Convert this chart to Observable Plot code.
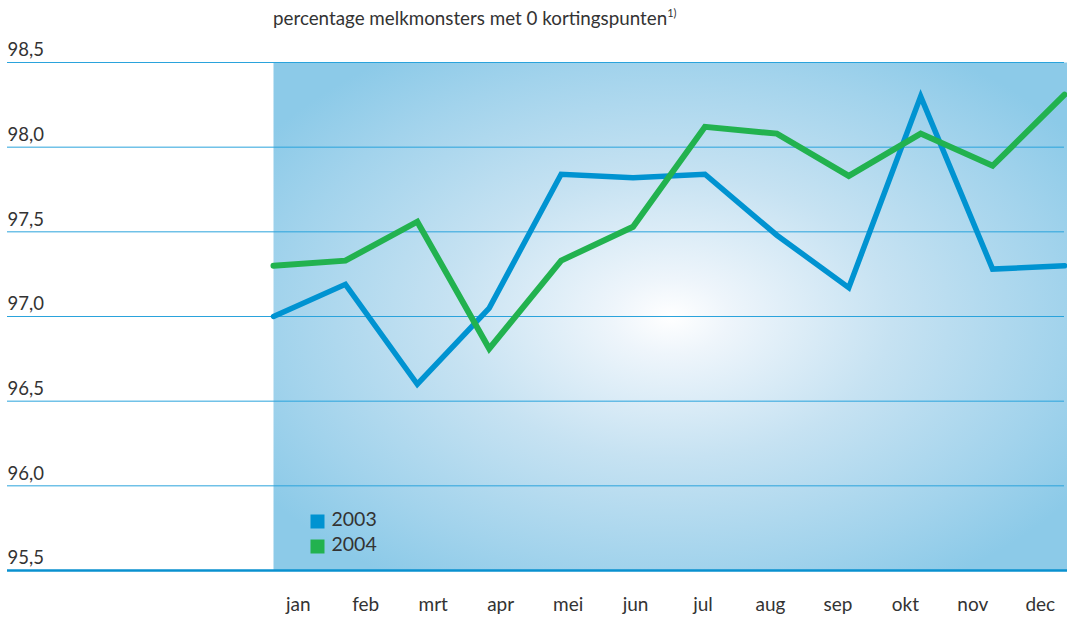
<!DOCTYPE html>
<html>
<head>
<meta charset="utf-8">
<script src="https://cdn.jsdelivr.net/npm/d3@7"></script>
<script src="https://cdn.jsdelivr.net/npm/@observablehq/plot@0.6"></script>
<style>
  body { margin: 0; background: #fff; font-family: Lato, "Open Sans", sans-serif; }
  #wrap { position: relative; width: 1067px; height: 619px; }
  #title { position: absolute; left: 273px; top: 6px; font-size: 18.8px; color: #333; white-space: nowrap; }
  #title sup { font-size: 11px; position: relative; top: -1px; }
  #chart { position: absolute; left: 0; top: 40px; }
</style>
</head>
<body>
<svg width="0" height="0" style="position:absolute">
  <defs>
    <radialGradient id="bgGrad" cx="0.5" cy="0.5" r="0.62" gradientUnits="objectBoundingBox">
      <stop offset="0" stop-color="#ffffff"/>
      <stop offset="0.12" stop-color="#eef5fb"/>
      <stop offset="0.45" stop-color="#c6e2f2"/>
      <stop offset="0.8" stop-color="#a2d3ec"/>
      <stop offset="1" stop-color="#8ccae8"/>
    </radialGradient>
  </defs>
</svg>
<div id="wrap">
  <div id="title">percentage melkmonsters met 0 kortingspunten<sup>1)</sup></div>
  <div id="chart"></div>
</div>
<script>
const months = ["jan","feb","mrt","apr","mei","jun","jul","aug","sep","okt","nov","dec"];
const values2003 = [97.00, 97.19, 96.60, 97.05, 97.84, 97.82, 97.84, 97.48, 97.17, 98.30, 97.28, 97.30];
const values2004 = [97.30, 97.33, 97.56, 96.81, 97.33, 97.53, 98.12, 98.08, 97.83, 98.08, 97.89, 98.31];
const seriesNames = ["2003", "2004"];
const seriesColors = ["#0093d1", "#22b24f"];
const yTicks = [95.5, 96.0, 96.5, 97.0, 97.5, 98.0, 98.5];

const rows = [];
months.forEach((m, i) => {
  rows.push({series: "2003", i, month: m, value: values2003[i]});
  rows.push({series: "2004", i, month: m, value: values2004[i]});
});

// month labels sit on a slightly narrower grid than the data points
const labelStart = 0.345, labelStep = 0.938;
const labels = months.map((m, i) => ({m, pos: labelStart + i * labelStep}));

const fmt = d => d.toFixed(1).replace(".", ",");
const font = "Lato, 'Open Sans', sans-serif";

const legendMarks = seriesNames.flatMap((s, k) => [
  Plot.dot([s], {frameAnchor: "bottom-left", dx: 44, dy: -49 + k * 25, symbol: "square", r: 7.9, fill: seriesColors[k], stroke: null}),
  Plot.text([s], {frameAnchor: "bottom-left", dx: 58, dy: -45 + k * 25, text: d => d, textAnchor: "start", fontSize: 19.5, fill: "#333"})
]);

const chart = Plot.plot({
  width: 1067,
  height: 579,
  marginLeft: 273,
  marginRight: 3,
  marginTop: 22,
  marginBottom: 49,
  style: {fontFamily: font, background: "transparent", overflow: "visible"},
  x: {type: "linear", domain: [0, 11], axis: null},
  y: {domain: [95.5, 98.5], axis: null},
  marks: [
    Plot.frame({fill: "url(#bgGrad)", stroke: null, insetRight: -3}),
    Plot.gridY(yTicks, {stroke: "#2aa3dc", strokeOpacity: 1, strokeWidth: 1}),
    Plot.axisY(yTicks, {anchor: "left", tickSize: 266, stroke: "#2aa3dc", strokeWidth: 1, text: null, label: null}),
    Plot.text(yTicks, {y: d => d, text: fmt, frameAnchor: "left", dx: -266, dy: -12, textAnchor: "start", fontSize: 18.5, fill: "#333"}),
    Plot.ruleY([95.5], {stroke: "#0a91cf", strokeWidth: 2.5, insetRight: -3}),
    Plot.axisY([95.5], {anchor: "left", tickSize: 266, stroke: "#0a91cf", strokeWidth: 2.5, text: null, label: null}),
    Plot.line(rows.filter(d => d.series === "2003"), {x: "i", y: "value", stroke: seriesColors[0], strokeWidth: 5.5, strokeLinejoin: "miter", strokeMiterlimit: 3}),
    Plot.line(rows.filter(d => d.series === "2004"), {x: "i", y: "value", stroke: seriesColors[1], strokeWidth: 6, strokeLinejoin: "miter", strokeMiterlimit: 3}),
    Plot.text(labels, {x: "pos", text: "m", frameAnchor: "bottom", dy: 40, fontSize: 19, fill: "#333"}),
    ...legendMarks
  ]
});
document.getElementById("chart").appendChild(chart);
</script>
</body>
</html>
